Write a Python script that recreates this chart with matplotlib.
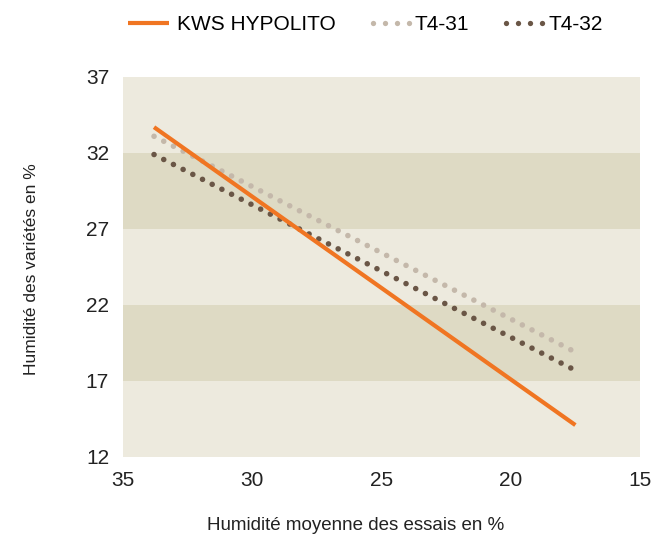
import matplotlib
matplotlib.use("Agg")
import matplotlib.pyplot as plt
import numpy as np
from matplotlib.legend_handler import HandlerLine2D
from matplotlib.lines import Line2D

plt.rcParams['font.family'] = ['Liberation Sans', 'DejaVu Sans']

series_names = ["KWS HYPOLITO", "T4-31", "T4-32"]
x_vals = [33.8, 17.5]
kws_vals = [33.7, 14.1]
t431_vals = [33.1, 18.9]
t432_vals = [31.9, 17.7]
y_ticks = [12, 17, 22, 27, 32, 37]
x_ticks = [35, 30, 25, 20, 15]

colors = ["#F07522", "#C4B8AA", "#6A5646"]

fig = plt.figure(figsize=(6.59, 5.37), dpi=100)
ax = fig.add_axes([123/659, 1-457/537, (640-123)/659, (457-77)/537])

light = "#EDEADE"
dark = "#DEDAC4"
for i in range(len(y_ticks)-1):
    ax.axhspan(y_ticks[i], y_ticks[i+1], color=light if i % 2 == 0 else dark, lw=0, zorder=0)

dot = (0, (0.01, 1.95))
ax.plot(x_vals, kws_vals, color=colors[0], lw=3, solid_capstyle='butt', zorder=3)
ax.plot(x_vals, t431_vals, color=colors[1], lw=4, linestyle=dot, dash_capstyle='round', zorder=2)
ax.plot(x_vals, t432_vals, color=colors[2], lw=4, linestyle=dot, dash_capstyle='round', zorder=2)

ax.set_xlim(35, 15)
ax.set_ylim(12, 37)
ax.set_xticks(x_ticks)
ax.set_yticks(y_ticks)
ax.tick_params(axis='x', length=0, labelsize=15, colors="#222222", pad=10)
ax.tick_params(axis='y', length=0, labelsize=15, colors="#222222", pad=10)
for s in ax.spines.values():
    s.set_visible(False)

fig.text(356/659, 1-525/537, "Humidité moyenne des essais en %", fontsize=13.5, color="#222222",
         ha="center", va="center")
fig.text(32/659, 1-269/537, "Humidité des variétés en %", fontsize=12.5, color="#222222",
         ha="center", va="center", rotation=90)


class DotHandler(HandlerLine2D):
    def get_xdata(self, legend, xdescent, ydescent, width, height, fontsize):
        xd = np.linspace(-xdescent + 0.17 * width, -xdescent + 1.05 * width, 4)
        return xd, xd


h0 = Line2D([], [], color=colors[0], lw=3, solid_capstyle='butt')
h1 = Line2D([], [], color=colors[1], linestyle='none', marker='o', markersize=3.8, markeredgewidth=0)
h2 = Line2D([], [], color=colors[2], linestyle='none', marker='o', markersize=3.8, markeredgewidth=0)

leg = fig.legend([h0, h1, h2], series_names, loc="center", bbox_to_anchor=(0.554, 1-25/537), ncol=3,
                 frameon=False, fontsize=15, handlelength=1.97, handletextpad=0.38,
                 columnspacing=1.45, borderpad=0, borderaxespad=0,
                 handler_map={h1: DotHandler(numpoints=4), h2: DotHandler(numpoints=4)})

fig.savefig("out.png", dpi=100)
